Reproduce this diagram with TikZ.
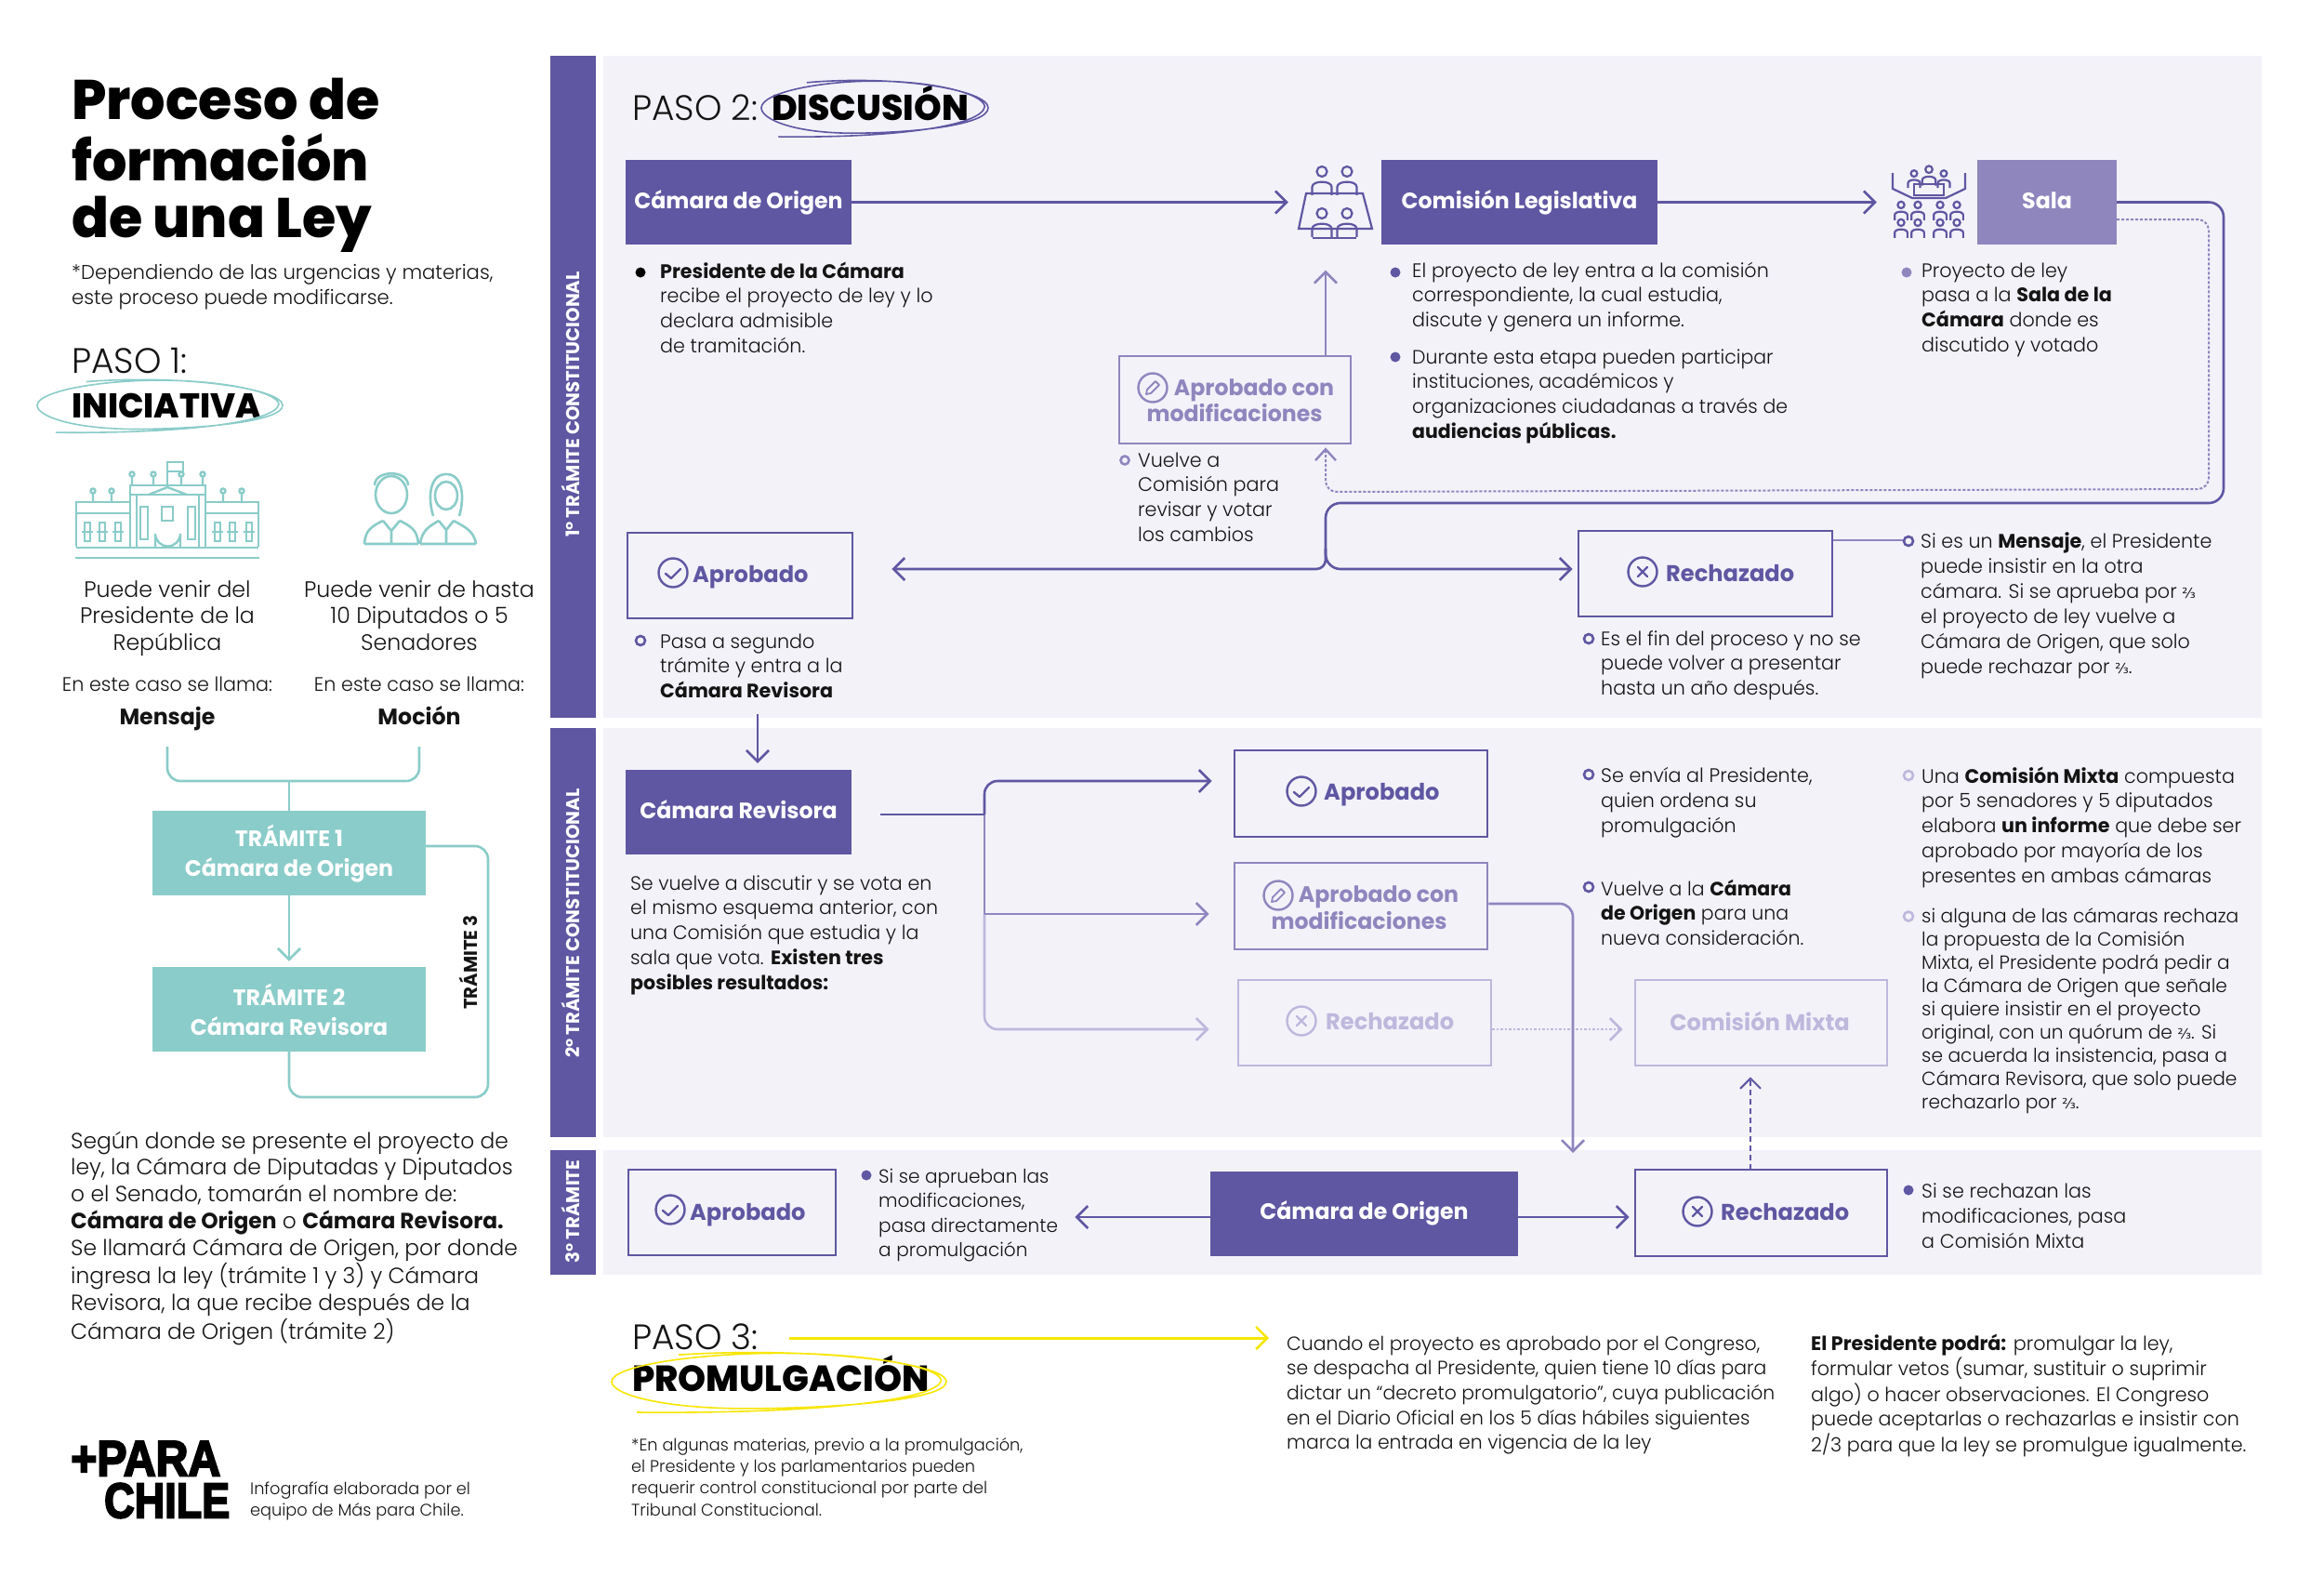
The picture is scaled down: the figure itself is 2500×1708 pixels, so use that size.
\documentclass[tikz,border=0pt]{standalone}
\usepackage{fontspec}
\setmainfont{Poppins}[UprightFont=* Light,BoldFont=* Bold,FakeStretch=0.985]
\newfontfamily\xb{Poppins ExtraBold}[FakeStretch=0.98]
\newfontfamily\djv{DejaVu Sans}
\newfontfamily\logof{Liberation Sans Bold}[FakeBold=4]
\usetikzlibrary{arrows.meta,calc}
\definecolor{pur}{HTML}{5F57A2}
\definecolor{mid}{HTML}{8F86BE}
\definecolor{pal}{HTML}{BDB8DC}
\definecolor{panel}{HTML}{F3F2F9}
\definecolor{teal}{HTML}{8ACCC9}
\definecolor{yel}{HTML}{F7E600}
\definecolor{ink}{HTML}{141414}
\newcommand\Lt[3]{\fontsize{#1}{#2}\selectfont\begin{tabular}[t]{@{}l@{}}#3\end{tabular}}
\newcommand\Ct[3]{\fontsize{#1}{#2}\selectfont\begin{tabular}[t]{@{}c@{}}#3\end{tabular}}
\newcommand\frc{{\djv\fontsize{15}{15}\selectfont ⅔}}
\newcommand\scribble[5]{\begin{scope}[shift={(#1,#2)},x=#3pt,y=#4pt,draw=#5,line width=1.6pt]
\draw (-0.6,0.85) .. controls (0.2,1.12) and (1.0,0.6) .. (1,0) .. controls (1,-0.6) and (0.3,-0.85) .. (-0.2,-0.85) .. controls (-0.7,-0.85) and (-1,-0.4) .. (-1,0) .. controls (-1,0.5) and (-0.5,0.9) .. (0,0.9) .. controls (0.5,0.9) and (0.95,0.5) .. (0.97,0.05) .. controls (0.95,-0.6) and (0.2,-1.02) .. (-0.85,-0.97);
\end{scope}}
% person: head centre x,y and scale
\newcommand\persn[3]{\begin{scope}[shift={(#1,#2)},x=#3pt,y=-#3pt]
\draw (0,-1) circle[radius=1];
\draw (-1.9,3.6) -- (-1.9,2) .. controls (-1.9,0.7) and (1.9,0.7) .. (1.9,2) -- (1.9,3.6);
\end{scope}}
\newcommand\icocheck[3]{\draw[#3,line width=2.4pt] (#1,#2) circle[radius=15.5];
\draw[#3,line width=2.4pt,line cap=round,line join=round] (#1-8,#2+1) -- (#1-2,#2+6) -- (#1+8,#2-4);}
\newcommand\icocross[3]{\draw[#3,line width=2.4pt] (#1,#2) circle[radius=15.5];
\draw[#3,line width=2.4pt,line cap=round] (#1-5,#2-5) -- (#1+5,#2+5) (#1-5,#2+5) -- (#1+5,#2-5);}
\newcommand\icopen[3]{\draw[#3,line width=2.4pt] (#1,#2) circle[radius=15.5];
\draw[#3,line width=1.8pt,line join=round] (#1-7,#2+7) -- (#1-6,#2+2) -- (#1+3,#2-7) -- (#1+7,#2-3) -- (#1-2,#2+6) -- cycle;}
\tikzset{
 txt/.style={anchor=base west,inner sep=0pt,text=ink},
 ctr/.style={anchor=base,inner sep=0pt,text=ink},
 solid box/.style={fill=pur,inner sep=0pt,text=white,font=\bfseries\fontsize{24}{28}\selectfont,text height=19pt,text depth=6pt},
 tealbox/.style={fill=teal,inner sep=0pt,minimum width=294pt,minimum height=91pt},
 outbox/.style={draw=pur,line width=2.8pt,inner sep=0pt,fill=none},
 boxlab/.style={anchor=base west,inner sep=0pt,font=\bfseries\fontsize{24.5}{29}\selectfont},
 arr/.style={draw=pur,line width=2.6pt,-{Straight Barb[length=12pt,width=24pt,line width=2.6pt]}},
 arrmid/.style={arr,draw=mid},
 arrpal/.style={arr,draw=pal},
 arrteal/.style={arr,draw=teal},
 arryel/.style={arr,draw=yel,line width=3pt},
 bar/.style={fill=pur,inner sep=0pt},
 panelbox/.style={fill=panel,inner sep=0pt},
 barlab/.style={inner sep=0pt,rotate=90,text=white,font=\bfseries\fontsize{20}{24}\selectfont},
 dotl/.style={line width=2pt,dash pattern=on 3pt off 2pt}
}
\begin{document}
\begin{tikzpicture}[x=1pt,y=-1pt]
\useasboundingbox (0,0) rectangle (2500,1708);
\fill[white] (0,0) rectangle (2500,1708);
% panels
\node[panelbox,minimum width=1784pt,minimum height=712pt] (p1) at (1541,416) {};
\node[panelbox,minimum width=1784pt,minimum height=440pt] (p2) at (1541,1003) {};
\node[panelbox,minimum width=1784pt,minimum height=134pt] (p3) at (1541,1304) {};
\node[bar,minimum width=49pt,minimum height=712pt] (b1) at (616.5,416) {};
\node[bar,minimum width=49pt,minimum height=440pt] (b2) at (616.5,1003) {};
\node[bar,minimum width=49pt,minimum height=134pt] (b3) at (616.5,1304) {};
\node[barlab] (bl1) at (614,435) {1° TRÁMITE CONSTITUCIONAL};
\node[barlab] (bl2) at (614,993) {2° TRÁMITE CONSTITUCIONAL};
\node[barlab] (bl3) at (614,1303) {3° TRÁMITE};
% title
\node[txt,text=black] (title) at (77,128) {\xb\Lt{60}{63.5}{Proceso de\\[-3pt]formación\\[-3pt]de una Ley}};
\node[txt] (nota) at (77,300) {\Lt{21.5}{27}{*Dependiendo de las urgencias y materias,\\este proceso puede modificarse.}};
\node[txt] (paso1) at (77,401) {\fontsize{38}{40}\selectfont PASO 1:};
\node[txt,text=black] (inic) at (77,449) {\xb\fontsize{37}{40}\selectfont INICIATIVA};
\scribble{172}{436}{132}{30}{teal}
% capitol icon
\begin{scope}[draw=teal,line width=2.4pt]
\draw (81,600) -- (279,600);
\draw (82,589) -- (278,589);
\draw (140,588) -- (140,522) -- (221,522) -- (221,588);
\draw (147,588) -- (147,532) (214,588) -- (214,532) (140,532) -- (221,532);
\draw (160,532) -- (180,524) -- (201,532);
\draw (82,588) -- (82,540) -- (140,540) (221,540) -- (278,540) -- (278,588);
\draw (82,552) -- (140,552) (221,552) -- (278,552);
\draw (180,522) -- (180,497) -- (197,497) -- (197,507) -- (180,507);
\foreach \x in {142,165,195,218}{\draw (\x,522) -- (\x,513) (\x,510) circle[radius=2.5];}
\foreach \x in {100,120,240,260}{\draw (\x,540) -- (\x,531) (\x,528) circle[radius=2.5];}
\foreach \x in {94,110,127,234,250,268}{\draw (\x-3,562) rectangle (\x+3,582) (\x-6,572) -- (\x+6,572);}
\foreach \x in {155,206}{\draw (\x-4,545) rectangle (\x+4,580);}
\draw (180,545) -- (174,545) -- (174,560) -- (186,560) -- (186,545) -- (180,545);
\draw (167,588) -- (167,574) arc[start angle=180,end angle=0,radius=13.5] -- (194,588);
\end{scope}
% people icon
\begin{scope}[draw=teal,line width=2.6pt]
\draw (421,532) ellipse[x radius=17,y radius=20];
\draw (403,522) .. controls (403,505) and (439,505) .. (439,522);
\draw (392,585) -- (450,585) (392,585) .. controls (393,570) and (400,566) .. (412,560) (450,585) .. controls (449,570) and (442,566) .. (430,560);
\draw (412,560) -- (421,571) -- (430,560) (421,571) -- (421,585);
\draw (480,533) ellipse[x radius=12,y radius=15];
\draw (466,555) .. controls (460,535) and (462,510) .. (480,510) .. controls (498,510) and (500,535) .. (494,555);
\draw (452,585) -- (512,585) (452,585) .. controls (454,570) and (462,566) .. (472,560) (512,585) .. controls (510,570) and (498,566) .. (488,560);
\draw (472,560) -- (480,570) -- (488,560) (480,570) -- (480,585);
\end{scope}
\node[ctr] (pres) at (180,642) {\Ct{24}{28.5}{Puede venir del\\Presidente de la\\República}};
\node[ctr] (dipu) at (451,642) {\Ct{24}{28.5}{Puede venir de hasta\\10 Diputados o 5\\Senadores}};
\node[ctr] (ll1) at (180,743) {\fontsize{21}{25}\selectfont En este caso se llama:};
\node[ctr] (ll2) at (451,743) {\fontsize{21}{25}\selectfont En este caso se llama:};
\node[ctr] (mens) at (180,779) {\bfseries\fontsize{24}{28}\selectfont Mensaje};
\node[ctr] (moci) at (451,779) {\bfseries\fontsize{24}{28}\selectfont Moción};
% teal flow
\node[tealbox] (t1) at (311,917.5) {};
\node[tealbox] (t2) at (311,1085.5) {};
\node[ctr,text=white] (t1l) at (311,910) {\bfseries\Ct{24}{32}{TRÁMITE 1\\Cámara de Origen}};
\node[ctr,text=white] (t2l) at (311,1081) {\bfseries\Ct{24}{32}{TRÁMITE 2\\Cámara Revisora}};
\coordinate (bktL) at (180,803);
\coordinate (bktR) at (451,803);
\coordinate (bktM) at (311,840);
\draw[teal,line width=2.6pt,rounded corners=14pt] (bktL) |- (bktR |- bktM) -- (bktR);
\draw[teal,line width=2.6pt] (bktM) -- (t1.north);
\draw[arrteal,shorten >=6pt] (t1.south) -- (t2.north);
\coordinate (lpR) at (525,910);
\coordinate (lpB) at (525,1180);
\draw[teal,line width=2.6pt,rounded corners=14pt] (t1.east |- lpR) -- (lpR) -- (lpB) -- (t2.south |- lpB) -- (t2.south);
\node[inner sep=0pt,rotate=90,text=ink,font=\bfseries\fontsize{20}{22}\selectfont] (t3l) at (504,1035) {TRÁMITE 3};
\node[txt] (segun) at (76,1235) {\Lt{23.7}{28.8}{Según donde se presente el proyecto de\\ley, la Cámara de Diputadas y Diputados\\o el Senado, tomarán el nombre de:\\\textbf{Cámara de Origen} o \textbf{Cámara Revisora.}\\Se llamará Cámara de Origen, por donde\\ingresa la ley (trámite 1 y 3) y Cámara\\Revisora, la que recibe después de la\\Cámara de Origen (trámite 2)}};
% logo
\node[anchor=north west,inner sep=0pt,text=black] (lg1) at (76,1550) {\logof\vbox{\offinterlineskip\hbox{\resizebox{161pt}{37pt}{+PARA}}\vskip 8pt\hbox{\hskip 36pt\resizebox{135pt}{37pt}{CHILE}}}};
\node[txt] (info) at (269,1607) {\Lt{18}{23.3}{Infografía elaborada por el\\equipo de Más para Chile.}};
% paso 2
\node[txt] (paso2) at (680,129) {\fontsize{38}{40}\selectfont PASO 2:};
\node[txt,text=black] (disc) at (830,129) {\xb\fontsize{38.5}{40}\selectfont DISCUSIÓN};
\scribble{941}{116}{122}{32}{pur}
\node[solid box,minimum width=243pt,minimum height=91pt] (co1) at (794.5,217.5) {Cámara de Origen};
\node[solid box,minimum width=297pt,minimum height=91pt] (cl) at (1634.5,217.5) {Comisión Legislativa};
\node[solid box,fill=mid,minimum width=150pt,minimum height=91pt] (sala) at (2202,217.5) {Sala};
\node[inner sep=0pt,minimum width=78pt,minimum height=80pt] (icoC) at (1436,217.5) {};
\node[inner sep=0pt,minimum width=78pt,minimum height=80pt] (icoS) at (2074,217.5) {};
% committee icon
\begin{scope}[draw=pur,line width=2.2pt,xshift=-3pt]
\persn{1425}{190}{5.5}
\persn{1452}{190}{5.5}
\draw (1408,208) -- (1469,208) -- (1479,246) -- (1400,246) -- cycle;
\persn{1425}{235}{5.5}
\persn{1452}{235}{5.5}
\draw (1415,256) -- (1462,256);
\end{scope}
% sala icon
\begin{scope}[draw=pur,line width=2.2pt,xshift=-11pt]
\persn{2086}{186}{3.8} \persn{2070}{190}{3.4} \persn{2102}{190}{3.4}
\draw (2070,198) rectangle (2102,210);
\draw (2047,186) -- (2047,203) -- (2068,213) -- (2104,213) -- (2125,203) -- (2125,186);
\foreach \x in {2056,2074,2098,2116}{\persn{\x}{224}{3.6} \persn{\x}{243}{3.6}}
\end{scope}
\draw[arr,shorten >=11pt] (co1.east) -- (icoC.west);
\draw[arr,shorten >=16pt] (cl.east) -- (icoS.west);
% bullets row 1
\fill[black] (689,293) circle[radius=5.5];
\node[txt] (d1) at (710,299) {\Lt{21}{26.7}{\textbf{Presidente de la Cámara}\\recibe el proyecto de ley y lo\\declara admisible\\de tramitación.}};
\fill[pur] (1501,293) circle[radius=5.5];
\node[txt] (d2) at (1519,298) {\Lt{21}{26.7}{El proyecto de ley entra a la comisión\\correspondiente, la cual estudia,\\discute y genera un informe.}};
\fill[pur] (1501,384) circle[radius=5.5];
\node[txt] (d3) at (1519,391) {\Lt{20.8}{26.7}{Durante esta etapa pueden participar\\instituciones, académicos y\\organizaciones ciudadanas a través de\\\textbf{audiencias públicas.}}};
\fill[mid] (2051,293) circle[radius=5.5];
\node[txt] (d4) at (2067,298) {\Lt{21}{26.7}{Proyecto de ley\\pasa a la \textbf{Sala de la}\\\textbf{Cámara} donde es\\discutido y votado}};
% aprobado con modificaciones
\node[outbox,draw=mid,minimum width=249pt,minimum height=94pt] (am1) at (1328.5,430) {};
\icopen{1240}{417}{mid}
\node[ctr,text=mid] (am1l) at (1349,425) {\bfseries\fontsize{24}{29}\selectfont Aprobado con};
\node[ctr,text=mid] (am1m) at (1328,453) {\bfseries\fontsize{24}{29}\selectfont modificaciones};
\draw[mid,line width=2.6pt] (1210,495) circle[radius=4.5];
\node[txt] (d5) at (1224,502) {\Lt{21}{26.7}{Vuelve a\\Comisión para\\revisar y votar\\los cambios}};
\coordinate (amx) at (1426,383);
\draw[arrmid,shorten >=33pt] (amx) -- (amx |- icoC.south);
% main return line
\coordinate (rA) at (2392,217.5);
\coordinate (rB) at (2392,541);
\coordinate (rC) at (1426,541);
\coordinate (jn) at (1426,612);
\coordinate (jt) at (1426,590);
\node[outbox,minimum width=242pt,minimum height=92pt] (ap1) at (796,619) {};
\icocheck{724}{616}{pur}
\node[boxlab,text=pur] (ap1l) at (745,626) {Aprobado};
\node[outbox,minimum width=273pt,minimum height=92pt] (re1) at (1834.5,617) {};
\icocross{1767}{615}{pur}
\node[boxlab,text=pur] (re1l) at (1792,625) {Rechazado};
\draw[arr,rounded corners=16pt,shorten >=5pt] (sala.east) -- (rA) -- (rB) -- (rC) -- (jn) -- (jn -| re1.west);
\draw[arr,rounded corners=10pt,shorten >=41pt] (jt) -- (jn) -- (jn -| ap1.east);
\coordinate (dA) at (2376,236);
\coordinate (dB) at (2376,526);
\coordinate (dC) at (1426,529);
\draw[mid,dotl,rounded corners=12pt,-{Straight Barb[length=12pt,width=22pt,line width=2.4pt]},shorten >=3pt] (sala.east |- dA) -- (dA) -- (dB) -- (dC) -- (am1.south -| dC);
% bullets under boxes
\draw[pur,line width=2.6pt] (689,689) circle[radius=5];
\node[txt] (d6) at (710,697) {\Lt{21}{26.7}{Pasa a segundo\\trámite y entra a la\\\textbf{Cámara Revisora}}};
\draw[pur,line width=2.6pt] (1709,687) circle[radius=5];
\node[txt] (d7) at (1722,694) {\Lt{21}{26.7}{Es el fin del proceso y no se\\puede volver a presentar\\hasta un año después.}};
\draw[pur,line width=2.6pt] (2053,582) circle[radius=5];
\node[txt] (d8) at (2066,589) {\Lt{21}{27}{Si es un \textbf{Mensaje}, el Presidente\\puede insistir en la otra\\cámara. Si se aprueba por \frc\\el proyecto de ley vuelve a\\Cámara de Origen, que solo\\puede rechazar por \frc.}};
\coordinate (d8b) at (2047,581);
\draw[mid,line width=1.6pt] (re1.east |- d8b) -- (d8b);
% row 2
\node[solid box,minimum width=243pt,minimum height=91pt] (cr) at (794.5,873.5) {Cámara Revisora};
\coordinate (ar1) at (815,768);
\draw[arr,shorten >=7pt] (ar1) -- (ar1 |- cr.north);
\node[txt] (d9) at (678,957) {\Lt{20.9}{26.8}{Se vuelve a discutir y se vota en\\el mismo esquema anterior, con\\una Comisión que estudia y la\\sala que vota. \textbf{Existen tres}\\\textbf{posibles resultados:}}};
\node[outbox,minimum width=272pt,minimum height=93pt] (ap2) at (1464,853.5) {};
\node[outbox,draw=mid,minimum width=272pt,minimum height=93pt] (am2) at (1464,974.5) {};
\node[outbox,draw=pal,minimum width=272pt,minimum height=92pt] (re2) at (1468,1100) {};
\node[outbox,draw=pal,minimum width=271pt,minimum height=92pt] (cm) at (1894.5,1100) {};
\icocheck{1400}{851}{pur}
\node[boxlab,text=pur] (ap2l) at (1424,860) {Aprobado};
\icopen{1375}{963}{mid}
\node[ctr,text=mid] (am2l) at (1483,970) {\bfseries\fontsize{24}{29}\selectfont Aprobado con};
\node[ctr,text=mid] (am2m) at (1462,999) {\bfseries\fontsize{24}{29}\selectfont modificaciones};
\icocross{1400}{1098}{pal}
\node[boxlab,text=pal] (re2l) at (1426,1107) {Rechazado};
\node[ctr,text=pal] (cml) at (1893,1108) {\bfseries\fontsize{24.5}{29}\selectfont Comisión Mixta};
\coordinate (vJ) at (1059,876);
\coordinate (vS) at (947,876);
\coordinate (vT) at (1059,840);
\coordinate (vM) at (1059,983);
\coordinate (vB) at (1059,1107);
\draw[arrpal,rounded corners=14pt,shorten >=30pt] (vM) -- (vB) -- (vB -| re2.west);
\draw[arrmid,shorten >=26pt] (vM) -- (vM -| ap2.west);
\draw[mid,line width=2.6pt] (vJ) -- (vM);
\draw[arr,rounded corners=14pt,shorten >=23pt] (vJ) -- (vT) -- (vT -| ap2.west);
\draw[pur,line width=2.6pt] (vS) -- (vJ);
\draw[arrpal,line width=2.2pt,dash pattern=on 2.5pt off 2pt,shorten >=12pt] (re2.east |- vB) -- (cm.west |- vB);
\coordinate (mA) at (1692,972);
\coordinate (mB) at (1692,1240);
\draw[arrmid,rounded corners=14pt] (am2.east |- mA) -- (mA) -- (mB);
\draw[pur,line width=2.6pt] (1709,833) circle[radius=5];
\node[txt] (d10) at (1722,841) {\Lt{21}{27}{Se envía al Presidente,\\quien ordena su\\promulgación}};
\draw[pur,line width=2.6pt] (1709,954) circle[radius=5];
\node[txt] (d11) at (1722,963) {\Lt{20.8}{26.7}{Vuelve a la \textbf{Cámara}\\\textbf{de Origen} para una\\nueva consideración.}};
\draw[pal,line width=2.6pt] (2053,834) circle[radius=5];
\node[txt] (d12) at (2067,842) {\Lt{21}{26.8}{Una \textbf{Comisión Mixta} compuesta\\por 5 senadores y 5 diputados\\elabora \textbf{un informe} que debe ser\\aprobado por mayoría de los\\presentes en ambas cámaras}};
\draw[pal,line width=2.6pt] (2053,985.5) circle[radius=5];
\node[txt] (d13) at (2067,992) {\Lt{20.5}{25.1}{si alguna de las cámaras rechaza\\la propuesta de la Comisión\\Mixta, el Presidente podrá pedir a\\la Cámara de Origen que señale\\si quiere insistir en el proyecto\\original, con un quórum de \frc. Si\\se acuerda la insistencia, pasa a\\Cámara Revisora, que solo puede\\rechazarlo por \frc.}};
% row 3
\node[outbox,minimum width=223pt,minimum height=92pt] (ap3) at (787.5,1304) {};
\icocheck{721}{1301}{pur}
\node[boxlab,text=pur] (ap3l) at (742,1312) {Aprobado};
\fill[pur] (932,1264) circle[radius=5.5];
\node[txt] (d14) at (945,1272) {\Lt{20.4}{26.5}{Si se aprueban las\\modificaciones,\\pasa directamente\\a promulgación}};
\node[solid box,minimum width=331pt,minimum height=91pt] (co3) at (1467.5,1305) {Cámara de Origen};
\node[outbox,minimum width=271pt,minimum height=93pt] (re3) at (1894.5,1304.5) {};
\icocross{1826}{1303}{pur}
\node[boxlab,text=pur] (re3l) at (1851,1312) {Rechazado};
\coordinate (ar3) at (1467,1309);
\draw[arr,shorten >=256pt] (co3.west |- ar3) -- (ar3 -| ap3.east);
\draw[arr,shorten >=5pt] (co3.east |- ar3) -- (ar3 -| re3.west);
\coordinate (upx) at (1883,1258);
\draw[pur,line width=2pt,dash pattern=on 6pt off 4pt,-{Straight Barb[length=11pt,width=22pt,line width=2pt]},shorten >=11pt] (upx) -- (upx |- cm.south);
\fill[pur] (2053,1280) circle[radius=5.5];
\node[txt] (d15) at (2067,1288) {\Lt{21}{27}{Si se rechazan las\\modificaciones, pasa\\a Comisión Mixta}};
% paso 3
\node[txt] (paso3) at (680,1451) {\fontsize{38}{40}\selectfont PASO 3:};
\node[txt,text=black] (prom) at (680,1496) {\xb\fontsize{39}{40}\selectfont PROMULGACIÓN};
\scribble{838}{1486}{180}{34}{yel}
\coordinate (yA) at (849,1439);
\coordinate (yB) at (1365,1439);
\draw[arryel] (yA) -- (yB);
\node[txt] (d16) at (679,1560) {\Lt{18}{23.4}{*En algunas materias, previo a la promulgación,\\el Presidente y los parlamentarios pueden\\requerir control constitucional por parte del\\Tribunal Constitucional.}};
\node[txt] (d17) at (1384,1452) {\Lt{20.7}{26.7}{Cuando el proyecto es aprobado por el Congreso,\\se despacha al Presidente, quien tiene 10 días para\\dictar un “decreto promulgatorio”, cuya publicación\\en el Diario Oficial en los 5 días hábiles siguientes\\marca la entrada en vigencia de la ley}};
\node[txt] (d18) at (1948,1452) {\Lt{21}{26.7}{\textbf{El Presidente podrá:} promulgar la ley,\\formular vetos (sumar, sustituir o suprimir\\algo) o hacer observaciones. El Congreso\\puede aceptarlas o rechazarlas e insistir con\\2/3 para que la ley se promulgue igualmente.}};
\end{tikzpicture}
\end{document}
